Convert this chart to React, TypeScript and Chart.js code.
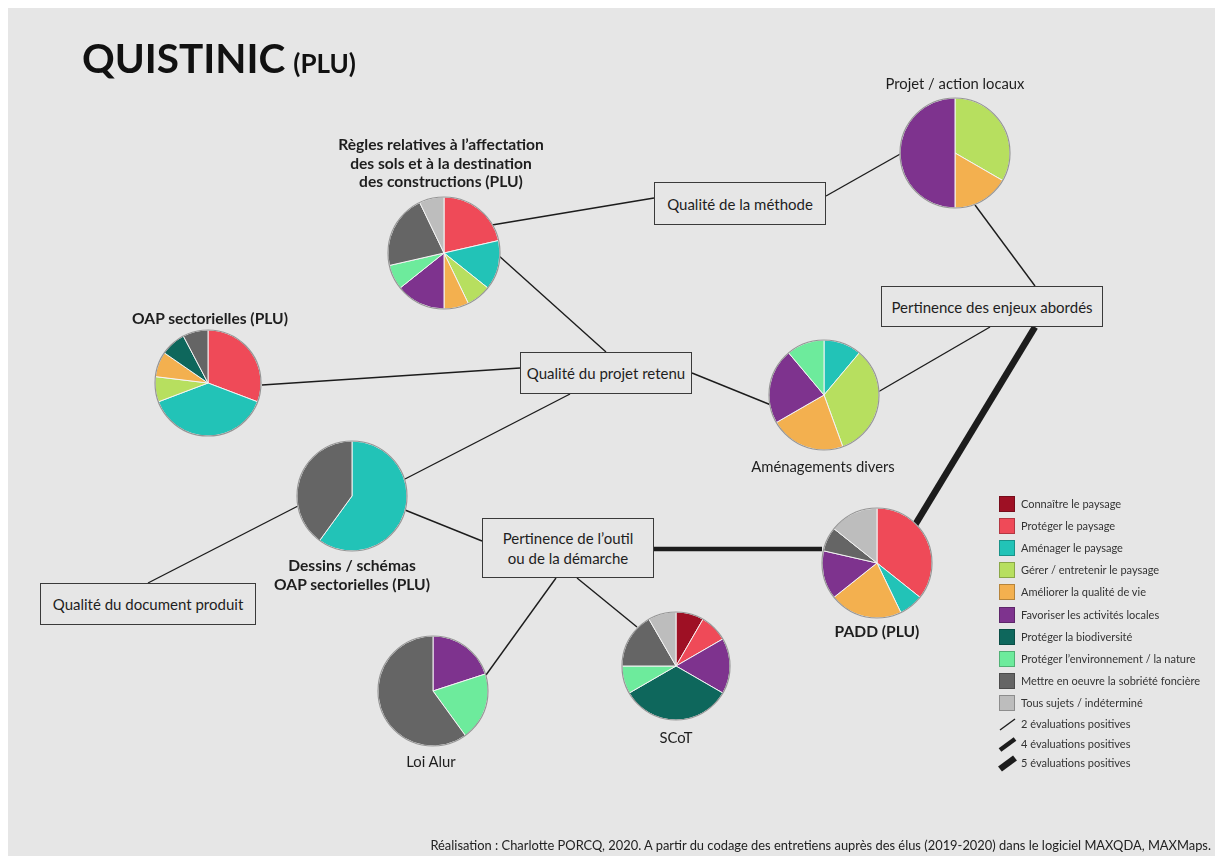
import React, { useEffect, useRef } from "react";
import { Chart, registerables } from "chart.js";
Chart.register(...registerables);

const W = 1215;
const H = 856;
const BG = "#e6e6e6";
const FONT = "Lato, 'Open Sans', sans-serif";

// Legend categories (slice order follows this order, clockwise from 12 o'clock)
const categories = [
  "Connaître le paysage",
  "Protéger le paysage",
  "Aménager le paysage",
  "Gérer / entretenir le paysage",
  "Améliorer la qualité de vie",
  "Favoriser les activités locales",
  "Protéger la biodiversité",
  "Protéger l’environnement / la nature",
  "Mettre en oeuvre la sobriété foncière",
  "Tous sujets / indéterminé",
];
const categoryColors = [
  "#9e1024",
  "#ef4a58",
  "#22c3b7",
  "#b7df5f",
  "#f3b04f",
  "#7e338e",
  "#0e675c",
  "#6deb9c",
  "#656565",
  "#bdbdbd",
];

// Pie nodes: values are counts per category (legend order)
const pieLabels = [
  ["Règles relatives à l’affectation", "des sols et à la destination", "des constructions (PLU)"],
  ["Projet / action locaux"],
  ["OAP sectorielles (PLU)"],
  ["Aménagements divers"],
  ["PADD (PLU)"],
  ["SCoT"],
  ["Loi Alur"],
  ["Dessins / schémas", "OAP sectorielles (PLU)"],
];
const pieBold = [true, false, true, false, true, false, false, true];
const pieValues = [
  [0, 3, 2, 1, 1, 2, 0, 1, 3, 1],
  [0, 0, 0, 2, 1, 3, 0, 0, 0, 0],
  [0, 4, 5, 1, 1, 0, 1, 0, 1, 0],
  [0, 0, 1, 3, 2, 2, 0, 1, 0, 0],
  [0, 5, 1, 0, 3, 2, 0, 0, 1, 2],
  [1, 1, 0, 0, 0, 2, 4, 1, 2, 1],
  [0, 0, 0, 0, 0, 1, 0, 1, 3, 0],
  [0, 0, 3, 0, 0, 0, 0, 0, 2, 0],
];
// layout of the diagram (page pixels)
const pieCenterX = [444, 955, 208, 824, 877, 676, 433, 352];
const pieCenterY = [253, 153, 383, 395, 563, 666, 691, 496];
const pieRadius = [56, 55, 53, 55, 55, 54, 55, 55];
const pieLabelX = [441, 955, 210, 823, 877, 676, 431, 352];
const pieLabelY = [163, 83, 318, 466, 631, 737, 761, 574];

// Criterion boxes
const boxLabels = [
  ["Qualité de la méthode"],
  ["Pertinence des enjeux abordés"],
  ["Qualité du projet retenu"],
  ["Pertinence de l’outil", "ou de la démarche"],
  ["Qualité du document produit"],
];
const boxLeft = [654, 881, 520, 482, 40];
const boxTop = [182, 286, 352, 518, 583];
const boxWidth = [172, 222, 172, 172, 216];
const boxHeight = [43, 41, 42, 60, 42];

// Edges: endpoints and number of positive evaluations
const edgeX1 = [492, 826, 975, 878, 1035, 498, 262, 692, 405, 298, 405, 654, 486, 577];
const edgeY1 = [225, 196, 205, 392, 327, 255, 385, 373, 479, 506, 510, 549, 675, 578];
const edgeX2 = [654, 902, 1035, 990, 915, 606, 520, 771, 570, 148, 482, 822, 556, 637];
const edgeY2 = [198, 153, 286, 327, 525, 352, 368, 405, 394, 583, 541, 549, 578, 627];
const edgeEvaluations = [2, 2, 2, 2, 5, 2, 2, 2, 2, 2, 2, 4, 2, 2];

const lineLegendLabels = ["2 évaluations positives", "4 évaluations positives", "5 évaluations positives"];
const lineLegendEvaluations = [2, 4, 5];

const widthFor = (n: number) => (n >= 5 ? 6.5 : n >= 4 ? 4.5 : 1.4);

const LEG_X = 999;
const LEG_Y0 = 504;
const LEG_STEP = 22.1;
const LINE_LEG_Y = [724, 744, 763];

const pieOutline = {
  id: "pieOutline",
  afterDatasetsDraw(chart: any) {
    const arc = chart.getDatasetMeta(0).data[0];
    if (!arc) return;
    const ctx = chart.ctx;
    ctx.save();
    ctx.beginPath();
    ctx.arc(arc.x, arc.y, arc.outerRadius, 0, Math.PI * 2);
    ctx.strokeStyle = "#959595";
    ctx.lineWidth = 1.2;
    ctx.stroke();
    ctx.restore();
  },
};

function Pie({ i }: { i: number }) {
  const ref = useRef<HTMLCanvasElement>(null);
  const r = pieRadius[i];
  const size = 2 * r + 8;
  useEffect(() => {
    const vals = pieValues[i];
    const idx = vals.map((_, k) => k).filter((k) => vals[k] > 0);
    const chart = new Chart(ref.current!, {
      type: "pie",
      data: {
        labels: idx.map((k) => categories[k]),
        datasets: [
          {
            data: idx.map((k) => vals[k]),
            backgroundColor: idx.map((k) => categoryColors[k]),
            borderColor: "#f3f3f3",
            borderWidth: 1,
          },
        ],
      },
      options: {
        responsive: false,
        animation: false,
        radius: r,
        layout: { padding: 0 },
        plugins: { legend: { display: false }, tooltip: { enabled: false } },
      } as any,
      plugins: [pieOutline],
    });
    return () => chart.destroy();
  }, [i]);
  return (
    <canvas
      ref={ref}
      width={size}
      height={size}
      style={{ position: "absolute", left: pieCenterX[i] - size / 2, top: pieCenterY[i] - size / 2, width: size, height: size }}
    />
  );
}

function Network() {
  const ref = useRef<HTMLCanvasElement>(null);
  useEffect(() => {
    const datasets: any[] = edgeX1.map((_, k) => ({
      data: [
        { x: edgeX1[k], y: edgeY1[k] },
        { x: edgeX2[k], y: edgeY2[k] },
      ],
      showLine: true,
      borderColor: "#1c1c1c",
      borderWidth: widthFor(edgeEvaluations[k]),
      pointRadius: 0,
      borderCapStyle: "butt",
    }));
    lineLegendEvaluations.forEach((n, k) => {
      datasets.push({
        data: [
          { x: LEG_X + 1, y: LINE_LEG_Y[k] + 6 },
          { x: LEG_X + 16, y: LINE_LEG_Y[k] - 5 },
        ],
        showLine: true,
        borderColor: "#1c1c1c",
        borderWidth: widthFor(n),
        pointRadius: 0,
        borderCapStyle: "butt",
      });
    });
    const chart = new Chart(ref.current!, {
      type: "scatter",
      data: { datasets },
      options: {
        responsive: false,
        animation: false,
        layout: { padding: 0 },
        scales: {
          x: { type: "linear", min: 0, max: W, display: false },
          y: { type: "linear", min: 0, max: H, reverse: true, display: false },
        },
        plugins: { legend: { display: false }, tooltip: { enabled: false } },
      },
    });
    return () => chart.destroy();
  }, []);
  return <canvas ref={ref} width={W} height={H} style={{ position: "absolute", left: 0, top: 0, width: W, height: H }} />;
}

export default function App() {
  return (
    <div style={{ position: "fixed", left: 0, top: 0, width: W, height: H, background: "#ffffff", overflow: "hidden", fontFamily: FONT, color: "#1e1e1e" }}>
      <div style={{ position: "absolute", left: 8, top: 8, width: W - 8, height: H - 8, background: BG }} />
      <Network />
      {/* Title */}
      <div style={{ position: "absolute", left: 82, top: 34, whiteSpace: "nowrap", fontWeight: 700, lineHeight: "48px", color: "#111" }}>
        <span style={{ fontSize: 40.5 }}>QUISTINIC</span>
        <span style={{ fontSize: 26, marginLeft: 8 }}>(PLU)</span>
      </div>
      {/* Boxes */}
      {boxLabels.map((lines, k) => (
        <div
          key={"b" + k}
          style={{
            position: "absolute",
            left: boxLeft[k],
            top: boxTop[k],
            width: boxWidth[k],
            height: boxHeight[k],
            boxSizing: "border-box",
            border: "1.5px solid #3a3a3a",
            background: BG,
            display: "flex",
            flexDirection: "column",
            alignItems: "center",
            justifyContent: "center",
            fontSize: 15,
            lineHeight: "20px",
            whiteSpace: "nowrap",
          }}
        >
          {lines.map((t, j) => (
            <div key={j}>{t}</div>
          ))}
        </div>
      ))}
      {/* Pies */}
      {pieValues.map((_, i) => (
        <Pie key={"p" + i} i={i} />
      ))}
      {/* Pie labels */}
      {pieLabels.map((lines, i) => (
        <div
          key={"l" + i}
          style={{
            position: "absolute",
            left: pieLabelX[i],
            top: pieLabelY[i],
            transform: "translate(-50%, -50%)",
            textAlign: "center",
            whiteSpace: "nowrap",
            fontSize: pieBold[i] ? 15.6 : 14.8,
            fontWeight: pieBold[i] ? 700 : 400,
            lineHeight: "18.5px",
          }}
        >
          {lines.map((t, j) => (
            <div key={j}>{t}</div>
          ))}
        </div>
      ))}
      {/* Legend */}
      {categories.map((c, k) => (
        <React.Fragment key={"g" + k}>
          <div
            style={{
              position: "absolute",
              left: LEG_X,
              top: LEG_Y0 + k * LEG_STEP - 8,
              width: 16,
              height: 16,
              boxSizing: "border-box",
              background: categoryColors[k],
              border: "1px solid rgba(0,0,0,0.25)",
            }}
          />
          <div style={{ position: "absolute", left: 1021, top: LEG_Y0 + k * LEG_STEP - 8, lineHeight: "16px", fontSize: 11, whiteSpace: "nowrap", color: "#333" }}>{c}</div>
        </React.Fragment>
      ))}
      {lineLegendLabels.map((t, k) => (
        <div key={"ll" + k} style={{ position: "absolute", left: 1021, top: LINE_LEG_Y[k] - 8, lineHeight: "16px", fontSize: 11, whiteSpace: "nowrap", color: "#333" }}>
          {t}
        </div>
      ))}
      {/* Caption */}
      <div style={{ position: "absolute", right: 4, top: 836, fontSize: 12.9, lineHeight: "18px", whiteSpace: "nowrap", color: "#222" }}>
        Réalisation : Charlotte PORCQ, 2020. A partir du codage des entretiens auprès des élus (2019-2020) dans le logiciel MAXQDA, MAXMaps.
      </div>
    </div>
  );
}
